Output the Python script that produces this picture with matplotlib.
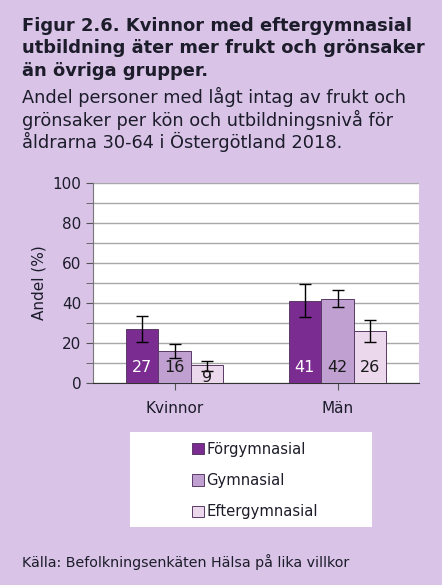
import numpy as np
import matplotlib.pyplot as plt
from matplotlib.patches import Rectangle

categories = ["Kvinnor", "Män"]
groups = ["Förgymnasial", "Gymnasial", "Eftergymnasial"]
values = {
    "Förgymnasial": [27, 41],
    "Gymnasial": [16, 42],
    "Eftergymnasial": [9, 26],
}
err_low = {
    "Förgymnasial": [20.5, 33],
    "Gymnasial": [12.5, 38],
    "Eftergymnasial": [6, 20.5],
}
err_high = {
    "Förgymnasial": [33.5, 49.5],
    "Gymnasial": [19.5, 46.5],
    "Eftergymnasial": [11, 31.5],
}
colors = {"Förgymnasial": "#7b2c91", "Gymnasial": "#bfa0d0", "Eftergymnasial": "#ecd8ec"}
label_colors = {"Förgymnasial": "white", "Gymnasial": "#1a1a1a", "Eftergymnasial": "#1a1a1a"}

bg = "#d9c4e8"
txt = "#1c1c2a"
plt.rcParams['font.family'] = ['DejaVu Sans']

fig = plt.figure(figsize=(4.42, 5.85), dpi=100, facecolor=bg)
ax = fig.add_axes([93 / 442, 202 / 585, 326 / 442, 200 / 585])
ax.set_facecolor("white")

x = np.arange(len(categories))
w = 0.2
for i, g in enumerate(groups):
    pos = x + (i - 1) * w
    v = np.array(values[g])
    lo = v - np.array(err_low[g])
    hi = np.array(err_high[g]) - v
    ax.bar(pos, v, width=w, color=colors[g], edgecolor="#5a3a66", linewidth=0.7, label=g, zorder=3)
    ax.errorbar(pos, v, yerr=[lo, hi], fmt="none", ecolor="black", elinewidth=1, capsize=4.5, capthick=1, zorder=4)
    for p, val in zip(pos, v):
        ypos = 8 if val >= 12 else 2.5
        ax.text(p, ypos, str(val), ha="center", va="center", fontsize=11.5, color=label_colors[g], zorder=5,
                clip_on=False)

ax.set_xlim(-0.5, 1.5)
ax.set_ylim(0, 100)
ax.set_yticks(np.arange(0, 101, 20))
ax.set_yticks(np.arange(0, 101, 10), minor=True)
ax.set_xticks(x)
ax.set_xticklabels(categories)
ax.grid(axis="y", which="both", color="#a8a8a8", linewidth=1, zorder=0)
ax.tick_params(axis="both", which="both", length=5, color="#555555", labelsize=11, labelcolor=txt)
ax.tick_params(axis="x", pad=8)
for s in ["top", "right"]:
    ax.spines[s].set_visible(False)
ax.spines["left"].set_color("#777777")
ax.spines["bottom"].set_color("#333333")
ax.set_ylabel("Andel (%)", fontsize=11, color=txt, labelpad=4)

fig.text(22 / 442, 1 - 17 / 585,
         "Figur 2.6. Kvinnor med eftergymnasial\nutbildning äter mer frukt och grönsaker\nän övriga grupper.",
         fontsize=12.9, fontweight="bold", color=txt, va="top", ha="left", linespacing=1.32)
fig.text(22 / 442, 1 - 87 / 585,
         "Andel personer med lågt intag av frukt och\ngrönsaker per kön och utbildningsnivå för\nåldrarna 30-64 i Östergötland 2018.",
         fontsize=12.8, color=txt, va="top", ha="left", linespacing=1.15)

fig.patches.append(Rectangle((130 / 442, 1 - 527 / 585), 242 / 442, 95 / 585,
                             transform=fig.transFigure, facecolor="white", edgecolor="none", zorder=0))
handles, labels = ax.get_legend_handles_labels()
fig.legend(handles, labels, loc="upper left", bbox_to_anchor=(186 / 442, 1 - 436 / 585),
           frameon=False, fontsize=10.6, handlelength=0.8, handleheight=0.8, handletextpad=0.2,
           labelspacing=1.1, borderaxespad=0, labelcolor=txt)

fig.text(22 / 442, 1 - 562 / 585, "Källa: Befolkningsenkäten Hälsa på lika villkor",
         fontsize=10.3, color=txt, va="center", ha="left")

fig.savefig("out.png", dpi=100, facecolor=bg)
